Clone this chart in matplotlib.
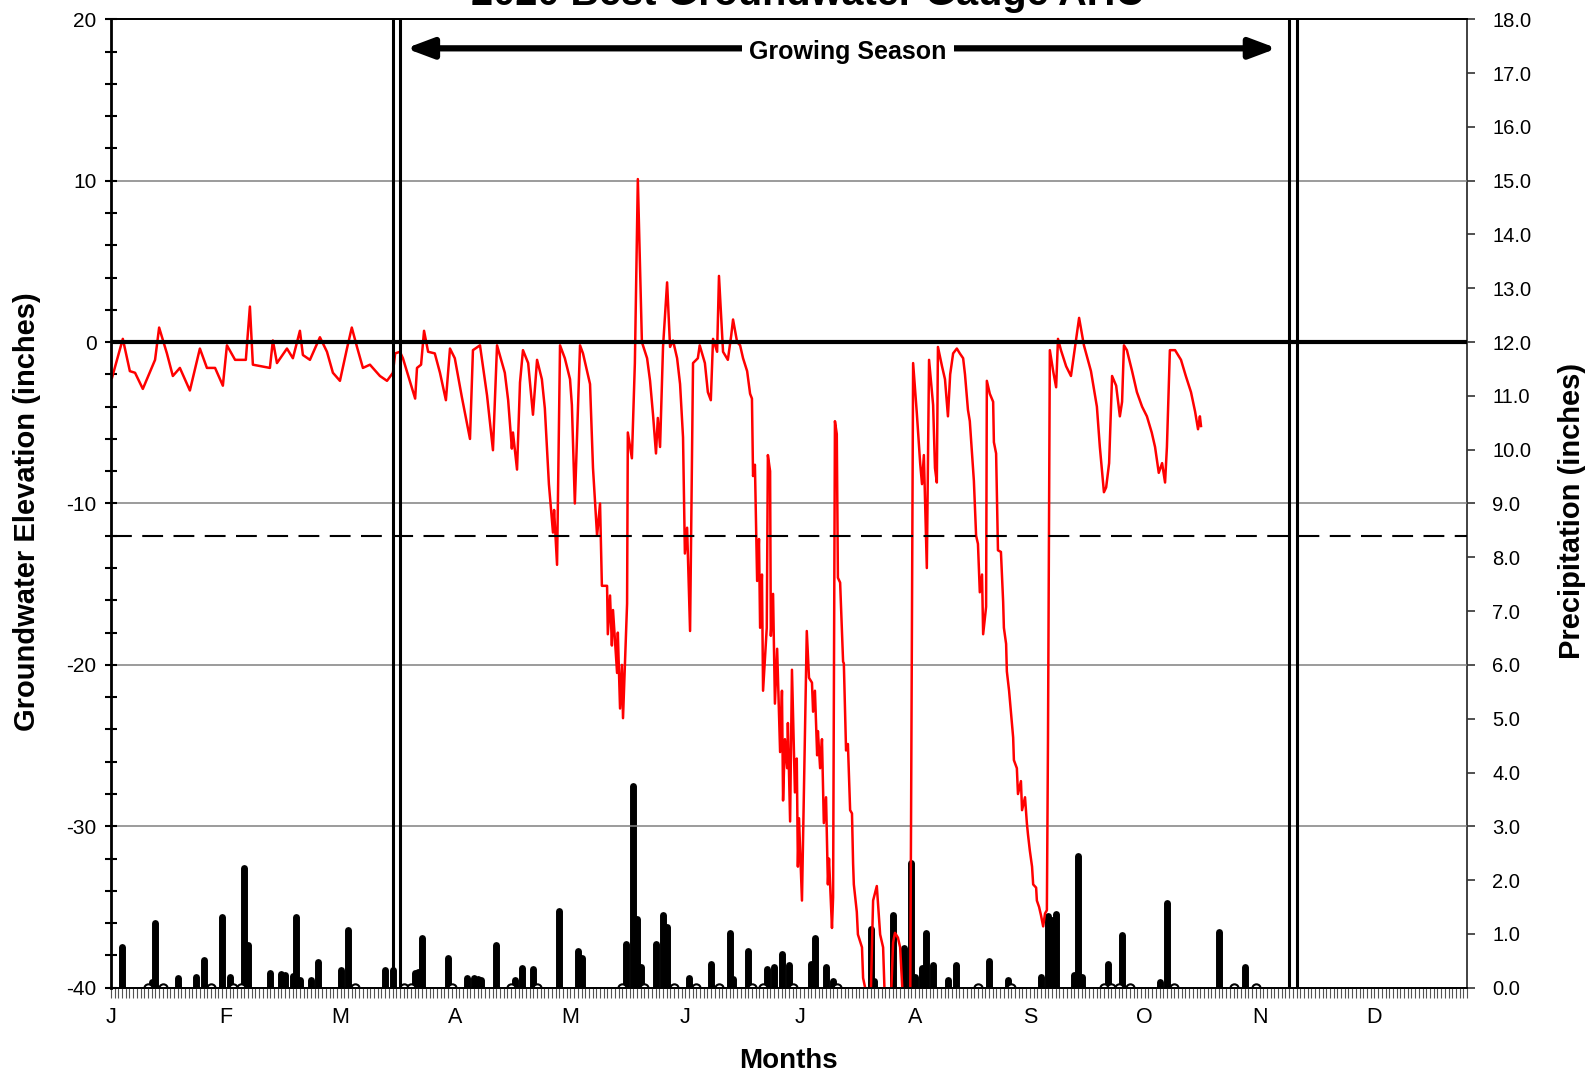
import numpy as np
import matplotlib.pyplot as plt
from matplotlib.ticker import MultipleLocator, FixedLocator

plt.rcParams['font.family'] = ['Liberation Sans', 'DejaVu Sans']
plt.rcParams['axes.unicode_minus'] = False

title = "2020 Best Groundwater Gauge AHC"
months = ['J', 'F', 'M', 'A', 'M', 'J', 'J', 'A', 'S', 'O', 'N', 'D']

# groundwater elevation (inches), day of year
gw_day = [0.3, 3.2, 5.1, 6.5, 8.6, 11.9, 13.0, 15.1, 16.7, 18.6, 21.3, 24.0, 25.9,
          28.1, 30.2, 31.3, 33.5, 36.4, 37.5, 38.3, 42.9, 43.7, 44.8, 47.5, 49.1,
          51.0, 51.8, 53.7, 56.4, 58.3, 59.9, 61.8, 63.7, 65.0, 66.4, 68.0, 69.9,
          72.6, 74.5, 76.1, 76.7, 78.0, 78.8, 82.1, 82.6, 83.7, 84.5, 85.6, 87.4,
          88.8, 90.4, 91.5, 92.8, 94.7, 96.9, 97.7, 99.6, 101.5, 103.1, 104.2,
          106.3, 107.2, 108.2, 108.5, 109.6, 110.4, 111.2, 112.6, 113.9, 115.0,
          116.3, 117.1, 118.2, 119.3, 119.6, 120.4, 121.2, 122.5, 123.9, 124.4,
          125.2, 126.6, 127.4, 129.3, 130.1, 131.2, 132.0, 132.5, 133.9, 134.1,
          134.7, 135.2, 135.5, 136.6, 136.8, 137.4, 137.9, 138.2, 139.3, 139.5,
          140.6, 141.4, 142.2, 143.3, 144.7, 145.5, 146.3, 147.1, 147.6, 148.2,
          149.0, 150.1, 150.9, 151.7, 152.8, 153.6, 154.4, 154.9, 155.5, 156.3,
          157.1, 158.4, 158.9, 160.3, 161.1, 161.9, 162.5, 163.6, 164.1, 165.2,
          166.5, 167.4, 167.9, 169.0, 169.8, 170.6, 171.7, 172.5, 173.0, 173.3,
          173.8, 174.4, 174.9, 175.2, 175.7, 176.0, 177.0, 177.3, 177.9, 178.1,
          178.7, 179.2, 179.8, 180.6, 181.1, 181.4, 181.9, 182.5, 182.7, 183.3,
          183.8, 184.6, 185.1, 185.4, 185.7, 186.5, 187.8, 188.4, 189.2, 189.5,
          190.0, 190.6, 190.8, 191.4, 191.9, 192.4, 193.0, 193.5, 193.8, 194.6,
          194.9, 195.4, 195.9, 196.2, 196.8, 197.6, 197.8, 198.4, 198.9, 199.5,
          200.0, 200.3, 200.5, 201.3, 201.6, 202.7, 203.0, 204.0, 204.9, 205.7,
          206.7, 207.6, 208.4, 208.9, 210.3, 211.1, 211.6, 212.4, 213.0, 213.8,
          215.7, 216.5, 217.5, 218.4, 218.9, 219.4, 220.2, 220.8, 221.9, 222.4,
          222.9, 223.2, 224.3, 225.1, 225.9, 226.5, 227.3, 228.3, 229.1, 230.0,
          230.5, 231.3, 231.8, 232.7, 232.9, 233.5, 234.0, 234.5, 235.1, 235.4,
          236.2, 236.4, 237.2, 238.1, 238.3, 238.9, 239.4, 240.2, 240.8, 241.0,
          241.6, 241.8, 242.4, 242.9, 243.5, 243.7, 244.5, 244.8, 245.6, 245.9,
          246.7, 247.2, 247.5, 248.0, 248.6, 248.9, 249.7, 249.9, 250.5, 251.0,
          251.6, 252.1, 252.6, 252.9, 253.4, 254.3, 255.1, 255.6, 256.4, 257.8,
          259.1, 261.3, 262.6, 264.5, 266.1, 266.9, 268.0, 268.6, 269.4, 270.2,
          271.3, 272.3, 272.9, 273.4, 274.2, 275.6, 276.9, 278.3, 279.6, 280.9,
          281.8, 282.8, 283.7, 284.5, 285.0, 285.8, 287.2, 288.8, 290.1, 291.5,
          292.6, 293.4, 293.9, 294.2]
gw_level = [-2.2, 0.2, -1.8, -1.9, -2.9, -1.1, 0.9, -0.7, -2.1, -1.6, -3.0, -0.4, -1.6,
            -1.6, -2.7, -0.2, -1.1, -1.1, 2.2, -1.4, -1.6, 0.1, -1.3, -0.4, -1.0,
            0.7, -0.8, -1.1, 0.3, -0.6, -1.9, -2.4, -0.4, 0.9, -0.3, -1.6, -1.4,
            -2.1, -2.4, -1.9, -0.7, -0.6, -1.0, -3.5, -1.6, -1.4, 0.7, -0.6, -0.7,
            -1.9, -3.6, -0.4, -1.0, -3.4, -6.0, -0.5, -0.2, -3.3, -6.7, -0.2,
            -1.9, -3.6, -6.6, -5.6, -7.9, -2.5, -0.5, -1.3, -4.5, -1.1,
            -2.3, -4.1, -8.8, -11.8, -10.4, -13.8, -0.2, -1.0, -2.3, -3.9,
            -10.0, -0.2, -0.7, -2.6, -7.8, -12.0, -10.0, -15.1, -15.1, -18.1,
            -15.7, -18.8, -16.6, -20.5, -18.0, -22.7, -20.0, -23.3, -16.2, -5.6,
            -7.2, -1.3, 10.1, 0.0, -1.0, -2.4, -4.5, -6.9, -4.7, -6.5,
            -0.3, 3.7, -0.3, 0.1, -1.0, -2.6, -5.9, -13.1, -11.5, -17.9,
            -1.3, -1.0, -0.2, -1.3, -3.1, -3.6, 0.2, -0.6, 4.1, -0.6,
            -1.1, 0.4, 1.4, 0.0, -0.2, -1.0, -1.8, -3.2, -3.5, -8.3,
            -7.6, -14.8, -12.2, -17.7, -14.4, -21.6, -17.7, -7.0, -8.0, -18.2,
            -15.6, -22.4, -19.0, -25.4, -21.6, -28.4, -24.6, -26.4, -23.6, -29.7,
            -20.3, -27.9, -25.8, -32.5, -29.5, -34.6, -17.9, -20.8, -21.1, -22.9,
            -21.6, -25.6, -24.1, -26.4, -24.6, -29.8, -28.2, -33.6, -32.0, -36.3,
            -34.4, -4.9, -5.7, -14.6, -14.9, -19.8, -19.9, -25.3, -24.9, -29.0,
            -29.2, -32.3, -33.6, -35.3, -36.7, -37.5, -39.4, -40.5, -42.0, -34.6,
            -33.7, -36.7, -37.5, -41.0, -42.0, -37.2, -36.6, -36.9, -37.5, -41.0,
            -42.0, -1.3, -4.4, -7.5, -8.8, -7.0, -14.0, -1.1, -3.9, -7.8,
            -8.7, -0.3, -1.5, -2.3, -4.6, -2.0, -0.7, -0.4, -0.7, -1.0,
            -2.0, -4.2, -4.9, -7.9, -8.6, -12.0, -12.5, -15.5, -14.4, -18.1,
            -16.4, -2.4, -3.2, -3.7, -6.2, -6.9, -12.9, -13.0, -16.1, -17.7,
            -18.7, -20.4, -21.6, -22.9, -24.5, -25.9, -26.4, -28.0, -27.2, -29.0,
            -28.2, -29.8, -30.5, -31.5, -32.5, -33.6, -33.8, -34.6, -35.0, -35.5,
            -36.2, -35.4, -35.2, -24.7, -0.5, -1.8, -2.8, 0.2, -0.5, -1.5,
            -2.1, 1.5, -0.2, -1.8, -4.0, -6.5, -9.3, -9.0, -7.5, -2.1,
            -2.7, -4.6, -3.7, -0.2, -0.5, -1.8, -3.1, -4.0, -4.6, -5.6,
            -6.5, -8.1, -7.5, -8.7, -6.5, -0.5, -0.5, -1.1, -2.1, -3.1,
            -4.3, -5.4, -4.6, -5.2]

# daily precipitation (inches)
rain_day = [3, 11, 12, 18, 23, 25, 30, 32, 36, 37, 43, 46, 47, 49, 50, 51, 54, 56,
            62, 64, 74, 76, 82, 83, 84, 91, 96, 98, 99, 100, 104, 109, 111, 114,
            121, 126, 127, 139, 141, 142, 143, 147, 149, 150, 156, 162, 167, 168,
            172, 177, 179, 181, 183, 189, 190, 193, 195, 205, 206, 211, 214, 216,
            217, 219, 220, 222, 226, 228, 237, 242, 251, 253, 254, 255, 260, 261,
            262, 269, 273, 283, 285, 299, 306]
rain_in = [0.76, 0.10, 1.20, 0.18, 0.20, 0.51, 1.32, 0.20, 2.22, 0.79, 0.27, 0.25,
           0.24, 0.22, 1.32, 0.14, 0.14, 0.48, 0.33, 1.07, 0.33, 0.33, 0.27, 0.30,
           0.92, 0.55, 0.18, 0.18, 0.17, 0.15, 0.79, 0.14, 0.37, 0.35, 1.43, 0.68,
           0.55, 0.81, 3.75, 1.28, 0.39, 0.81, 1.35, 1.13, 0.18, 0.45, 1.02, 0.17,
           0.68, 0.35, 0.39, 0.63, 0.42, 0.45, 0.92, 0.39, 0.12, 1.10, 0.12, 1.35,
           0.74, 2.31, 0.20, 0.37, 1.02, 0.42, 0.14, 0.42, 0.50, 0.14, 0.20, 1.34,
           1.25, 1.37, 0.23, 2.45, 0.20, 0.45, 0.98, 0.10, 1.57, 1.04, 0.39]
trace_day = [10, 14, 27, 33, 35, 66, 79, 81, 92, 108, 115, 138, 144, 152, 158,
             164, 173, 176, 184, 196, 234, 243, 268, 270, 272, 275, 287, 303, 309]

season_start = 77
season_end = 319
target_level = -12

fig = plt.figure(figsize=(15.92, 10.77), dpi=100)
ax = fig.add_axes([0.0697, 0.0829, 0.8518, 0.8992])
ax2 = ax.twinx()
ax.set_zorder(ax2.get_zorder() + 1)
ax.patch.set_visible(False)

# precipitation on the right axis
bars = ax2.vlines(rain_day, 0, rain_in, color='black', linewidth=5)
bars.set_capstyle('round')
ax2.plot(trace_day, np.zeros(len(trace_day)), 'o', ms=6, mfc='white',
         mec='black', mew=1.5)
ax2.set_ylim(0, 18)
ax2.yaxis.set_major_locator(MultipleLocator(1))
ax2.yaxis.set_major_formatter('{x:.1f}')
ax2.tick_params(axis='y', direction='out', length=6, width=1.2, colors='#333333',
                labelsize=14.5, labelcolor='black', pad=12)

# grid and reference lines
for lvl in [10, -10, -20, -30]:
    ax.axhline(lvl, color='#808080', lw=1.1, zorder=1)
ax.plot(gw_day, gw_level, color='red', lw=1.8, zorder=2)
ax.axhline(0, color='black', lw=3, zorder=3)
ax.axhline(target_level, color='black', lw=1.5, dashes=(10, 5), zorder=3)
for d in [season_start, season_end]:
    ax.axvline(d - 1.0, color='black', lw=2.2, zorder=4)
    ax.axvline(d + 1.0, color='black', lw=2.2, zorder=4)

ax.set_xlim(0, 366)
ax.set_ylim(-40, 20)
ax.yaxis.set_major_locator(MultipleLocator(10))
ax.yaxis.set_minor_locator(MultipleLocator(2))
ax.tick_params(axis='y', which='both', direction='inout', length=9, width=1.5,
               labelsize=15, pad=6)
ax.xaxis.set_major_locator(FixedLocator([31 * i for i in range(12)]))
ax.set_xticklabels(months)
ax.xaxis.set_minor_locator(MultipleLocator(1))
ax.tick_params(axis='x', which='both', direction='out', length=7, width=0.8,
               colors='#555555', labelcolor='black', labelsize=15.5, pad=7)

for a in (ax, ax2):
    a.spines['top'].set_linewidth(1.3)
    a.spines['bottom'].set_linewidth(1.3)
ax.spines['left'].set_linewidth(2)
ax2.spines['right'].set_color('#333333')
ax2.spines['right'].set_linewidth(1.3)
ax.spines['right'].set_visible(False)
ax2.spines['left'].set_visible(False)

# growing season arrow
ax.annotate('', xy=(79.6, 18.2), xytext=(314.7, 18.2),
            arrowprops=dict(arrowstyle='<|-|>,head_length=0.8,head_width=0.3',
                            lw=4.5, color='black', shrinkA=0, shrinkB=0,
                            mutation_scale=20), zorder=5)
ax.text(198.9, 17.96, 'Growing Season', ha='center', va='center', fontsize=18,
        fontweight='bold', zorder=6,
        bbox=dict(facecolor='white', edgecolor='none', pad=5))

fig.text(0.507, 1 - 5 / 1077, title, ha='center', va='baseline', fontsize=28.5,
         fontweight='bold')
fig.text(0.0172, 0.525, 'Groundwater Elevation (inches)', rotation=90, ha='center',
         va='center', fontsize=21, fontweight='bold')
fig.text(0.9875, 0.526, 'Precipitation (inches)', rotation=90, ha='center',
         va='center', fontsize=21, fontweight='bold')
fig.text(0.495, 0.0149, 'Months', ha='center', va='center', fontsize=20,
         fontweight='bold')

fig.savefig('out.png', dpi=100)
